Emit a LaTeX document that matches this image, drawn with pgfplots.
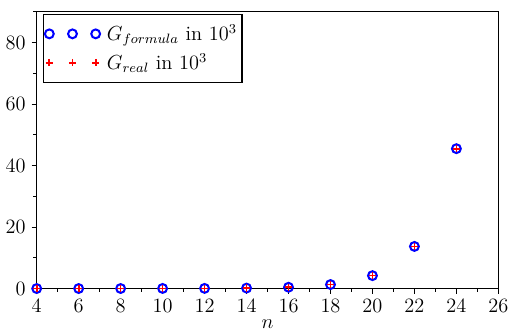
\documentclass[border=0pt]{standalone}
\usepackage{pgfplots}
\pgfplotsset{compat=1.18}
\begin{document}
\begin{tikzpicture}
\begin{axis}[
  scale only axis,
  width=272pt, height=163pt,
  xmin=4, xmax=26, ymin=0, ymax=90,
  xtick={4,6,...,26}, ytick={0,20,...,80},
  minor xtick={5,7,...,25}, minor ytick={10,30,...,90},
  tick align=outside, xtick pos=left, ytick pos=left,
  major tick length=3pt, minor tick length=2pt,
  tick style={black, line width=0.6pt},
  axis line style={line width=0.7pt},
  xlabel={$n$},
  xlabel style={yshift=3pt},
  ticklabel style={font=\large},
  label style={font=\large},
  legend style={at={(rel axis cs:0.013,0.993)}, anchor=north west, font=\large,
    draw=black, line width=0.6pt, cells={anchor=west}, row sep=2pt, inner xsep=1pt, inner ysep=4pt},
  legend image code/.code={\draw plot coordinates {(0cm,0cm) (0.48cm,0cm) (0.96cm,0cm)};\path (0cm,0cm) (1.1cm,0cm);},
  clip=true,
]
\addplot[only marks, mark=o, mark size=2.6pt, draw=blue, line width=1.2pt] coordinates {
(4,0.001) (6,0.003) (8,0.01) (10,0.03) (12,0.05) (14,0.15) (16,0.42) (18,1.3) (20,4.2) (22,13.7) (24,45.5)};
\addlegendentry{$G_{formula}$ in $10^3$}
\addplot[only marks, mark=+, mark size=2.2pt, draw=red, line width=1pt] coordinates {
(4,0.001) (6,0.003) (8,0.01) (10,0.03) (12,0.05) (14,0.15) (16,0.42) (18,1.3) (20,4.2) (22,13.7) (24,45.5)};
\addlegendentry{$G_{real}$ in $10^3$}
\end{axis}
\path ([yshift=7pt]current axis.north west);
\end{tikzpicture}
\end{document}
